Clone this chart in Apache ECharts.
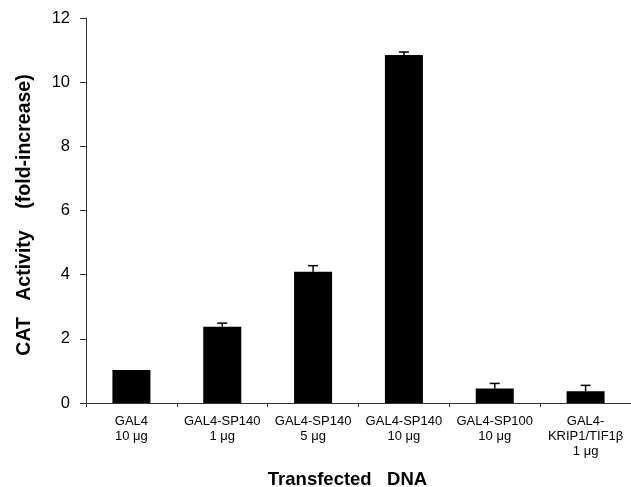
<!DOCTYPE html>
<html><head><meta charset="utf-8">
<script src="https://cdn.jsdelivr.net/npm/echarts@6/dist/echarts.min.js"></script>
<style>html,body{margin:0;padding:0;background:#fff}#c{width:631px;height:487px}</style>
</head><body><div id="c"></div>
<script>
const categories = ['GAL4\n10 μg', 'GAL4-SP140\n1 μg', 'GAL4-SP140\n5 μg', 'GAL4-SP140\n10 μg', 'GAL4-SP100\n10 μg', 'GAL4-\nKRIP1/TIF1β\n1 μg'];
const values = [1.03, 2.38, 4.09, 10.85, 0.45, 0.37];
const errors = [0, 0.11, 0.19, 0.09, 0.16, 0.18];
const yTicks = [0, 2, 4, 6, 8, 10, 12];

const chart = echarts.init(document.getElementById('c'), null, {renderer: 'canvas'});
const font = 'Liberation Sans, Arial, sans-serif';
chart.setOption({
  animation: false,
  grid: {left: 86, right: 0, top: 18, bottom: 84, containLabel: false, outerBoundsMode: 'none'},
  xAxis: {
    type: 'category', data: categories,
    name: 'Transfected   DNA', nameLocation: 'middle', nameGap: 67,
    nameTextStyle: {fontFamily: font, fontWeight: 'bold', fontSize: 18.5, color: '#000', padding: [0, 22, 0, 0]},
    axisLine: {lineStyle: {color: '#333', width: 1}},
    axisTick: {show: true, length: 4, lineStyle: {color: '#333'}},
    axisLabel: {interval: 0, fontFamily: font, fontSize: 13, color: '#000', lineHeight: 15, margin: 11}
  },
  yAxis: {
    type: 'value', min: yTicks[0], max: yTicks[yTicks.length - 1], interval: 2,
    name: 'CAT   Activity    (fold-increase)', nameLocation: 'middle', nameGap: 51,
    nameTextStyle: {fontFamily: font, fontWeight: 'bold', fontSize: 19.5, color: '#000', padding: [0, 9, 0, 0]},
    axisLine: {show: true, lineStyle: {color: '#333', width: 1}},
    axisTick: {show: true, length: 6, lineStyle: {color: '#333'}},
    splitLine: {show: false},
    axisLabel: {fontFamily: font, fontSize: 16.5, color: '#000', margin: 16}
  },
  series: [
    {
      type: 'bar', data: values, barWidth: 38,
      itemStyle: {color: '#000'}
    },
    {
      type: 'custom',
      data: values.map((v, i) => [i, v, errors[i]]),
      renderItem: function (params, api) {
        const i = api.value(0), v = api.value(1), e = api.value(2);
        if (!e) return null;
        const p0 = api.coord([i, v]);
        const p1 = api.coord([i, v + e]);
        const hw = 5;
        return {
          type: 'group',
          children: [
            {type: 'line', shape: {x1: p0[0], y1: p0[1], x2: p1[0], y2: p1[1]}, style: {stroke: '#000', lineWidth: 1.5}},
            {type: 'line', shape: {x1: p1[0] - hw, y1: p1[1], x2: p1[0] + hw, y2: p1[1]}, style: {stroke: '#000', lineWidth: 1.5}}
          ]
        };
      },
      z: 3
    }
  ]
});
</script></body></html>
